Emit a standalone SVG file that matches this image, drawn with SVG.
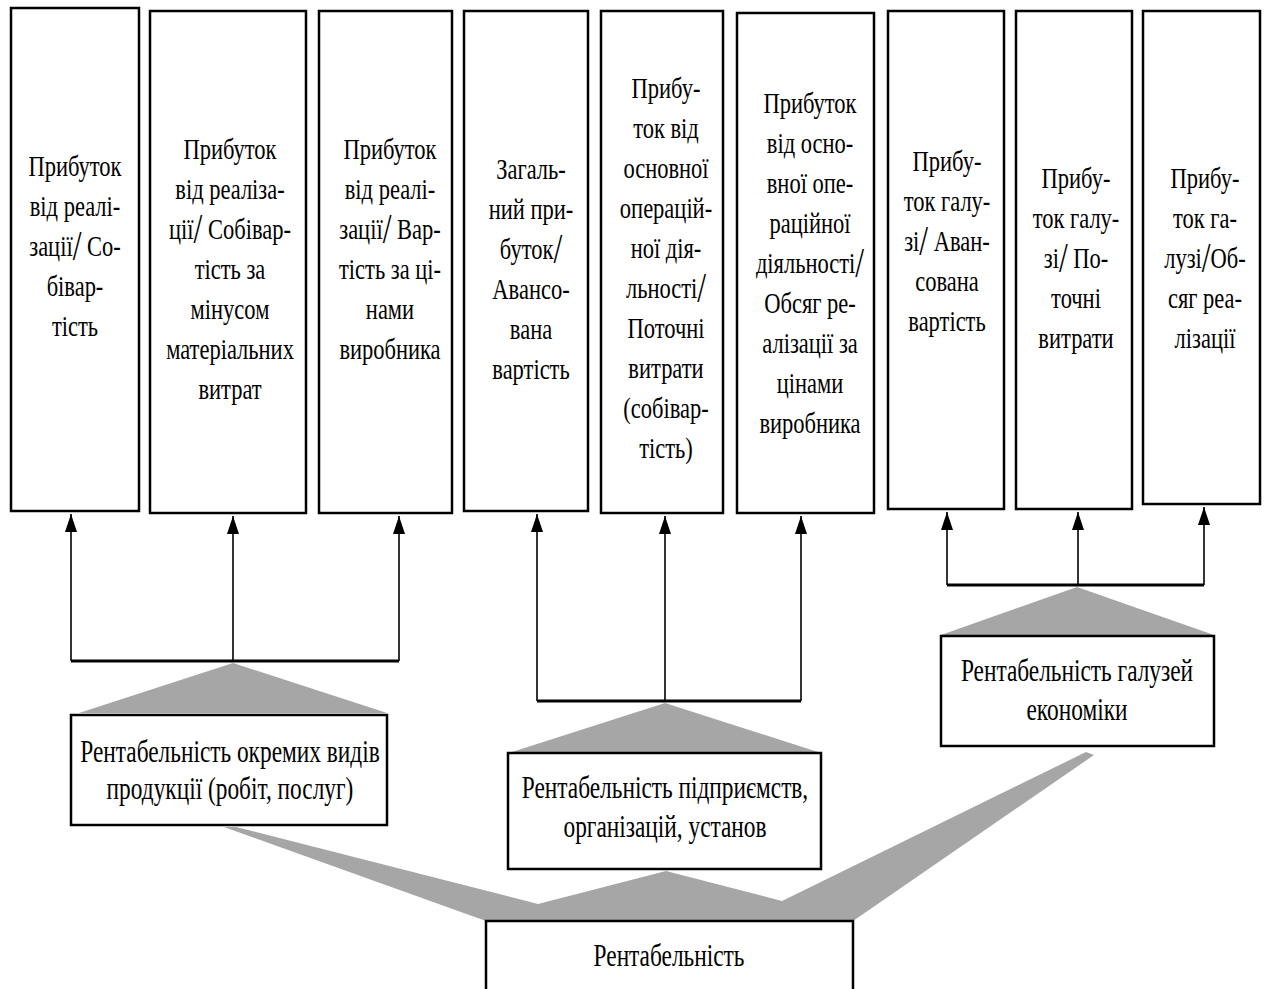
<svg xmlns="http://www.w3.org/2000/svg" width="1267" height="989" viewBox="0 0 1267 989">
  <defs>
    <style>
      .box { fill: #ffffff; stroke: #000000; stroke-width: 2.5; }
      .t { font-family: "Liberation Serif", "Times New Roman", serif; font-size: 30px; text-anchor: middle; fill: #000000; }
      .lbl { font-size: 32px; }
      .sl { font-size: 42px; }
      .conn { stroke: #000000; stroke-width: 1.6; fill: none; }
      .bar { stroke: #000000; stroke-width: 3; fill: none; }
      .fan { fill: #a6a6a6; stroke: none; }
    </style>
    <marker id="ah" viewBox="0 -6 18 12" refX="18" refY="0" markerWidth="18" markerHeight="12" markerUnits="userSpaceOnUse" orient="auto">
      <path d="M0,-6 L18,0 L0,6 Z" fill="#000000"/>
    </marker>
  </defs>
  <rect width="1267" height="989" fill="#ffffff"/>

  <!-- grey fans joining the levels -->
  <g id="fans">
    <polygon class="fan" points="233,663 387,713 79,713"/>
    <polygon class="fan" points="665,703 818,752 512,752"/>
    <polygon class="fan" points="1077,587 1214,635 941,635"/>
    <polygon class="fan" points="224,827 236,827 538,904 666,871 782,901 1086,752 1094,755 853,921 486,921"/>
  </g>

  <!-- connectors -->
  <g id="connectors">
    <line class="conn" x1="71" y1="661" x2="71" y2="514" marker-end="url(#ah)"/>
    <line class="conn" x1="233" y1="661" x2="233" y2="516" marker-end="url(#ah)"/>
    <line class="conn" x1="399" y1="661" x2="399" y2="516" marker-end="url(#ah)"/>
    <line class="bar" x1="71" y1="661" x2="399" y2="661"/>

    <line class="conn" x1="537" y1="701" x2="537" y2="514" marker-end="url(#ah)"/>
    <line class="conn" x1="665" y1="701" x2="665" y2="516" marker-end="url(#ah)"/>
    <line class="conn" x1="801" y1="701" x2="801" y2="516" marker-end="url(#ah)"/>
    <line class="bar" x1="537" y1="701" x2="801" y2="701"/>

    <line class="conn" x1="947" y1="585" x2="947" y2="512" marker-end="url(#ah)"/>
    <line class="conn" x1="1078" y1="585" x2="1078" y2="512" marker-end="url(#ah)"/>
    <line class="conn" x1="1204" y1="585" x2="1204" y2="507" marker-end="url(#ah)"/>
    <line class="bar" x1="947" y1="585" x2="1204" y2="585"/>
  </g>

  <!-- indicator boxes -->
  <g id="box1">
    <rect class="box" x="11" y="8" width="128" height="503"/>
    <g transform="translate(75,0) scale(0.75,1)">
      <text class="t"><tspan x="0" y="176">Прибуток</tspan><tspan x="0" y="216">від реалі-</tspan><tspan x="0" y="256">зації</tspan><tspan class="sl" dy="4">/</tspan><tspan dy="-4"> Со-</tspan><tspan x="0" y="296">бівар-</tspan><tspan x="0" y="336">тість</tspan></text>
    </g>
  </g>
  <g id="box2">
    <rect class="box" x="150" y="11" width="156" height="502"/>
    <g transform="translate(230,0) scale(0.75,1)">
      <text class="t"><tspan x="0" y="159">Прибуток</tspan><tspan x="0" y="199">від реаліза-</tspan><tspan x="0" y="239">ції</tspan><tspan class="sl" dy="4">/</tspan><tspan dy="-4"> Собівар-</tspan><tspan x="0" y="279">тість за</tspan><tspan x="0" y="319">мінусом</tspan><tspan x="0" y="359">матеріальних</tspan><tspan x="0" y="399">витрат</tspan></text>
    </g>
  </g>
  <g id="box3">
    <rect class="box" x="319" y="11" width="133" height="502"/>
    <g transform="translate(390,0) scale(0.75,1)">
      <text class="t"><tspan x="0" y="159">Прибуток</tspan><tspan x="0" y="199">від реалі-</tspan><tspan x="0" y="239">зації</tspan><tspan class="sl" dy="4">/</tspan><tspan dy="-4"> Вар-</tspan><tspan x="0" y="279">тість за ці-</tspan><tspan x="0" y="319">нами</tspan><tspan x="0" y="359">виробника</tspan></text>
    </g>
  </g>
  <g id="box4">
    <rect class="box" x="464" y="11" width="124" height="500"/>
    <g transform="translate(531,0) scale(0.75,1)">
      <text class="t"><tspan x="0" y="179">Загаль-</tspan><tspan x="0" y="219">ний при-</tspan><tspan x="0" y="259">буток</tspan><tspan class="sl" dy="4">/</tspan><tspan x="0" y="299">Авансо-</tspan><tspan x="0" y="339">вана</tspan><tspan x="0" y="379">вартість</tspan></text>
    </g>
  </g>
  <g id="box5">
    <rect class="box" x="601" y="11" width="122" height="502"/>
    <g transform="translate(666,0) scale(0.75,1)">
      <text class="t"><tspan x="0" y="98">Прибу-</tspan><tspan x="0" y="138">ток від</tspan><tspan x="0" y="178">основної</tspan><tspan x="0" y="218">операцій-</tspan><tspan x="0" y="258">ної дія-</tspan><tspan x="0" y="298">льності</tspan><tspan class="sl" dy="4">/</tspan><tspan x="0" y="338">Поточні</tspan><tspan x="0" y="378">витрати</tspan><tspan x="0" y="418">(собівар-</tspan><tspan x="0" y="458">тість)</tspan></text>
    </g>
  </g>
  <g id="box6">
    <rect class="box" x="737" y="13" width="137" height="500"/>
    <g transform="translate(810,0) scale(0.75,1)">
      <text class="t"><tspan x="0" y="113">Прибуток</tspan><tspan x="0" y="153">від осно-</tspan><tspan x="0" y="193">вної опе-</tspan><tspan x="0" y="233">раційної</tspan><tspan x="0" y="273">діяльності</tspan><tspan class="sl" dy="4">/</tspan><tspan x="0" y="313">Обсяг ре-</tspan><tspan x="0" y="353">алізації за</tspan><tspan x="0" y="393">цінами</tspan><tspan x="0" y="433">виробника</tspan></text>
    </g>
  </g>
  <g id="box7">
    <rect class="box" x="888" y="11" width="116" height="498"/>
    <g transform="translate(947,0) scale(0.75,1)">
      <text class="t"><tspan x="0" y="171">Прибу-</tspan><tspan x="0" y="211">ток галу-</tspan><tspan x="0" y="251">зі</tspan><tspan class="sl" dy="4">/</tspan><tspan dy="-4"> Аван-</tspan><tspan x="0" y="291">сована</tspan><tspan x="0" y="331">вартість</tspan></text>
    </g>
  </g>
  <g id="box8">
    <rect class="box" x="1016" y="11" width="116" height="498"/>
    <g transform="translate(1076,0) scale(0.75,1)">
      <text class="t"><tspan x="0" y="188">Прибу-</tspan><tspan x="0" y="228">ток галу-</tspan><tspan x="0" y="268">зі</tspan><tspan class="sl" dy="4">/</tspan><tspan dy="-4"> По-</tspan><tspan x="0" y="308">точні</tspan><tspan x="0" y="348">витрати</tspan></text>
    </g>
  </g>
  <g id="box9">
    <rect class="box" x="1143" y="11" width="117" height="493"/>
    <g transform="translate(1205,0) scale(0.75,1)">
      <text class="t"><tspan x="0" y="188">Прибу-</tspan><tspan x="0" y="228">ток га-</tspan><tspan x="0" y="268">лузі</tspan><tspan class="sl" dy="4">/</tspan><tspan dy="-4">Об-</tspan><tspan x="0" y="308">сяг реа-</tspan><tspan x="0" y="348">лізації</tspan></text>
    </g>
  </g>

  <!-- level boxes -->
  <g id="products">
    <rect class="box" x="71" y="715" width="316" height="110"/>
    <g transform="translate(230,0) scale(0.73,1)">
      <text class="t lbl"><tspan x="0" y="762">Рентабельність окремих видів</tspan><tspan x="0" y="799">продукції (робіт, послуг)</tspan></text>
    </g>
  </g>
  <g id="enterprises">
    <rect class="box" x="508" y="753" width="313" height="116"/>
    <g transform="translate(665,0) scale(0.73,1)">
      <text class="t lbl"><tspan x="0" y="798">Рентабельність підприємств,</tspan><tspan x="0" y="837">організацій, установ</tspan></text>
    </g>
  </g>
  <g id="industries">
    <rect class="box" x="941" y="636" width="273" height="110"/>
    <g transform="translate(1077,0) scale(0.73,1)">
      <text class="t lbl"><tspan x="0" y="681">Рентабельність галузей</tspan><tspan x="0" y="720">економіки</tspan></text>
    </g>
  </g>
  <g id="profitability">
    <rect class="box" x="486" y="921" width="367" height="80"/>
    <g transform="translate(669,0) scale(0.73,1)">
      <text class="t lbl"><tspan x="0" y="966">Рентабельність</tspan></text>
    </g>
  </g>
</svg>
